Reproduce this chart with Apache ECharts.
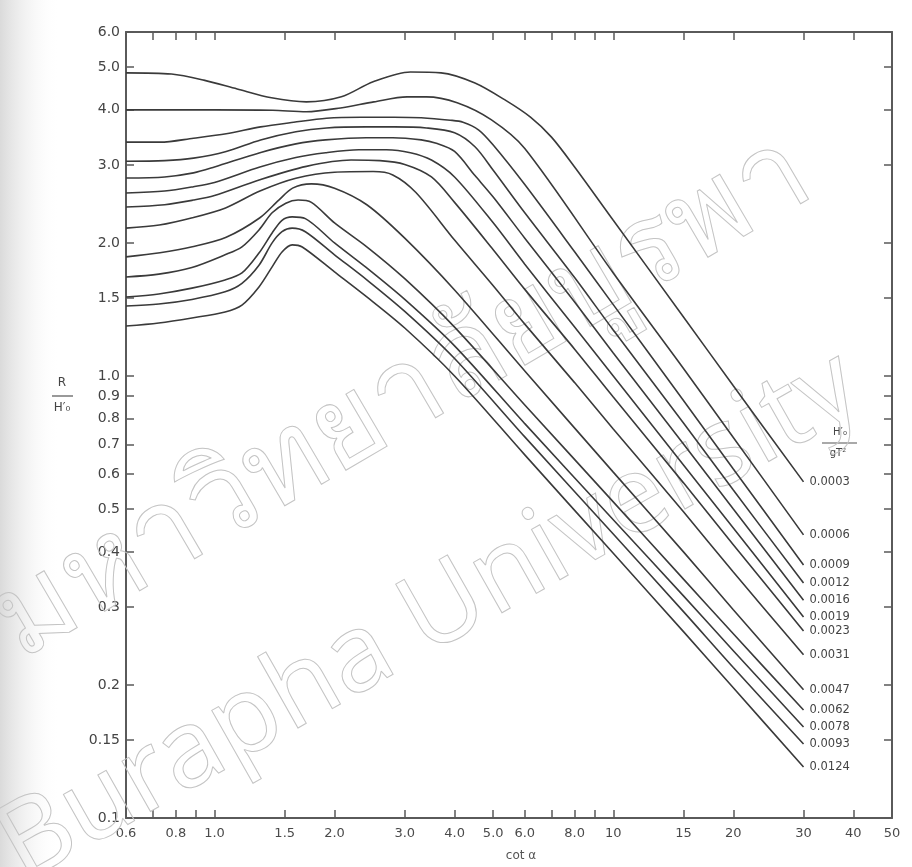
<!DOCTYPE html>
<html><head><meta charset="utf-8">
<script src="https://cdn.jsdelivr.net/npm/echarts@6/dist/echarts.min.js"></script>
<style>html,body{margin:0;padding:0;background:#fff}#c{width:912px;height:867px}</style>
</head><body><div id="c"></div>
<script>
// H0'/gT^2 curve names
const seriesNames = ['0.0003','0.0006','0.0009','0.0012','0.0016','0.0019','0.0023','0.0031','0.0047','0.0062','0.0078','0.0093','0.0124'];
// [cot alpha, R/H0']
const s0003 = [[0.6,4.85],[0.78,4.82],[0.94,4.67],[1.14,4.46],[1.39,4.26],[1.7,4.17],[2.08,4.28],[2.5,4.63],[3.1,4.87],[3.7,4.85],[4.5,4.60],[5.4,4.19],[6.2,3.85],[7.0,3.47],[8.0,2.97],[10,2.25],[15,1.36],[20,0.95],[30,0.576]];
const s0006 = [[0.6,4.0],[0.8,4.0],[1.0,4.0],[1.4,3.99],[1.7,3.96],[2.07,4.04],[2.51,4.17],[3.04,4.28],[3.4,4.28],[4.06,4.15],[4.94,3.80],[6.0,3.27],[10,1.71],[15,1.04],[20,0.726],[30,0.437]];
const s0009 = [[0.6,3.38],[0.73,3.38],[0.886,3.45],[1.07,3.53],[1.305,3.66],[1.58,3.75],[1.91,3.83],[2.33,3.85],[2.82,3.85],[3.3,3.84],[3.9,3.79],[4.2,3.75],[4.6,3.60],[5.0,3.33],[6.0,2.71],[8.0,1.91],[10,1.45],[15,0.88],[20,0.616],[30,0.3736]];
const s0012 = [[0.6,3.06],[0.75,3.07],[0.886,3.11],[1.07,3.22],[1.305,3.42],[1.6,3.57],[1.91,3.64],[2.4,3.66],[2.82,3.66],[3.4,3.64],[4.0,3.55],[4.5,3.30],[5.0,2.92],[6.0,2.34],[8.0,1.67],[10,1.27],[15,0.783],[20,0.552],[30,0.340]];
const s0016 = [[0.6,2.805],[0.75,2.82],[0.886,2.88],[1.0,2.97],[1.3,3.20],[1.6,3.35],[1.9,3.42],[2.4,3.46],[2.8,3.46],[3.3,3.42],[3.6,3.36],[4.0,3.22],[4.5,2.84],[5.0,2.54],[6.0,2.05],[8.0,1.47],[10,1.127],[15,0.702],[20,0.50],[30,0.311]];
const s0019 = [[0.6,2.594],[0.75,2.62],[0.886,2.68],[1.0,2.74],[1.3,2.97],[1.6,3.12],[1.9,3.20],[2.3,3.25],[2.7,3.25],[3.1,3.20],[3.5,3.08],[4.0,2.82],[5.0,2.22],[6.0,1.79],[8.0,1.29],[10,1.0],[15,0.629],[20,0.453],[30,0.285]];
const s0023 = [[0.6,2.412],[0.75,2.44],[0.886,2.50],[1.0,2.56],[1.3,2.78],[1.7,2.98],[2.2,3.08],[2.6,3.07],[3.0,3.01],[3.5,2.82],[4.0,2.47],[5.0,1.93],[6.0,1.57],[8.0,1.15],[10,0.896],[15,0.573],[20,0.415],[30,0.265]];
const s0031 = [[0.6,2.16],[0.727,2.195],[0.88,2.28],[1.066,2.40],[1.3,2.62],[1.6,2.80],[2.0,2.89],[2.5,2.90],[2.8,2.85],[3.2,2.60],[4.0,2.03],[5.0,1.60],[6.0,1.31],[8.0,0.966],[10,0.759],[15,0.493],[20,0.36],[30,0.234]];
const s0047 = [[0.6,1.86],[0.73,1.90],[0.88,1.96],[1.07,2.06],[1.3,2.28],[1.45,2.50],[1.57,2.66],[1.75,2.72],[2.0,2.66],[2.41,2.44],[3.0,2.05],[4.0,1.565],[6.0,1.026],[10,0.606],[15,0.40],[20,0.296],[30,0.195]];
const s0062 = [[0.6,1.675],[0.725,1.70],[0.878,1.76],[1.063,1.88],[1.172,1.96],[1.293,2.14],[1.395,2.34],[1.51,2.46],[1.62,2.50],[1.75,2.47],[2.0,2.22],[2.41,1.96],[3.0,1.66],[4.0,1.29],[6.0,0.86],[10,0.519],[15,0.347],[20,0.261],[30,0.1755]];
const s0078 = [[0.6,1.509],[0.725,1.533],[0.878,1.58],[1.063,1.649],[1.172,1.71],[1.293,1.897],[1.395,2.106],[1.477,2.25],[1.566,2.29],[1.69,2.27],[2.0,2.0],[2.41,1.755],[3.0,1.49],[4.0,1.17],[6.0,0.78],[10,0.473],[15,0.318],[20,0.239],[30,0.1607]];
const s0093 = [[0.6,1.44],[0.725,1.455],[0.878,1.49],[1.063,1.55],[1.172,1.62],[1.293,1.78],[1.395,2.0],[1.477,2.12],[1.566,2.16],[1.69,2.12],[2.0,1.88],[2.41,1.65],[3.0,1.40],[4.0,1.095],[6.0,0.728],[10,0.439],[15,0.293],[20,0.219],[30,0.147]];
const s0124 = [[0.6,1.297],[0.725,1.318],[0.878,1.353],[1.063,1.396],[1.172,1.447],[1.293,1.59],[1.395,1.765],[1.477,1.908],[1.566,1.98],[1.66,1.958],[2.0,1.72],[2.41,1.51],[3.0,1.284],[4.0,1.0],[6.0,0.663],[10,0.397],[15,0.264],[20,0.197],[30,0.1304]];
const seriesData = [s0003,s0006,s0009,s0012,s0016,s0019,s0023,s0031,s0047,s0062,s0078,s0093,s0124];

// axis ticks and labels
const xTickValues = [0.6,0.7,0.8,0.9,1,1.5,2,3,4,5,6,7,8,9,10,15,20,30,40,50];
const xLabelValues = [0.6,0.8,1,1.5,2,3,4,5,6,8,10,15,20,30,40,50];
const xLabelTexts = ['0.6','0.8','1.0','1.5','2.0','3.0','4.0','5.0','6.0','8.0','10','15','20','30','40','50'];
const yTickValues = [0.1,0.15,0.2,0.3,0.4,0.5,0.6,0.7,0.8,0.9,1,1.5,2,3,4,5,6];
const yLabelTexts = ['0.1','0.15','0.2','0.3','0.4','0.5','0.6','0.7','0.8','0.9','1.0','1.5','2.0','3.0','4.0','5.0','6.0'];

function pick(vals, texts) {
  return function (v) {
    let best = 0, bd = Infinity;
    for (let i = 0; i < vals.length; i++) {
      const d = Math.abs(Math.log(v) - Math.log(vals[i]));
      if (d < bd) { bd = d; best = i; }
    }
    return texts[best];
  };
}

const FONT = 'DejaVu Sans';
const axisColor = '#5a5a5a';
const lineColor = '#3a3a3a';

const chart = echarts.init(document.getElementById('c'), null, {renderer: 'canvas'});

function mkX(pos, labels) {
  return {
    type: 'log', logBase: 10, min: 0.6, max: 50, position: pos,
    axisLine: {show: true, onZero: false, lineStyle: {color: axisColor, width: 2}},
    axisTick: {show: true, inside: true, length: 8, customValues: xTickValues, lineStyle: {color: axisColor, width: 1.5}},
    axisLabel: labels ? {show: true, customValues: xLabelValues, formatter: pick(xLabelValues, xLabelTexts), color: '#4a4a4a', fontSize: 13, fontFamily: FONT, margin: 9} : {show: false},
    splitLine: {show: false}, minorTick: {show: false}
  };
}
function mkY(pos, labels) {
  return {
    type: 'log', logBase: 10, min: 0.1, max: 6, position: pos,
    axisLine: {show: true, onZero: false, lineStyle: {color: axisColor, width: 2}},
    axisTick: {show: true, inside: true, length: 8, customValues: yTickValues, lineStyle: {color: axisColor, width: 1.5}},
    axisLabel: labels ? {show: true, customValues: yTickValues, formatter: pick(yTickValues, yLabelTexts), color: '#444', fontSize: 14, fontFamily: FONT, margin: 6} : {show: false},
    splitLine: {show: false}, minorTick: {show: false}
  };
}

const series = seriesNames.map((name, i) => ({
  name: name, type: 'line', xAxisIndex: 0, yAxisIndex: 0,
  data: seriesData[i], smooth: 0.3, showSymbol: false, symbol: 'none',
  lineStyle: {color: lineColor, width: 1.6}, silent: true, animation: false,
  endLabel: {show: true, formatter: '{a}', color: '#444', fontSize: 11.5, fontFamily: FONT, distance: 6}
}));

chart.setOption({
  animation: false,
  backgroundColor: '#ffffff',
  grid: {left: 126, right: 20, top: 32, bottom: 49, containLabel: false},
  xAxis: [mkX('bottom', true), mkX('top', false)],
  yAxis: [mkY('left', true), mkY('right', false)],
  series: series,
  graphic: [
    {type: 'rect', silent: true, z: -10, shape: {x: 0, y: 0, width: 60, height: 867},
     style: {fill: new echarts.graphic.LinearGradient(0, 0, 1, 0, [{offset: 0, color: 'rgba(150,150,150,0.35)'}, {offset: 0.5, color: 'rgba(190,190,190,0.15)'}, {offset: 1, color: 'rgba(255,255,255,0)'}])}},
    {type: 'text', silent: true, z: 1, x: 402, y: 398, rotation: 0.53,
     style: {text: 'มหาวิทยาลัยบูรพา', fontSize: 118, fontFamily: 'Noto Sans, DejaVu Sans', fill: 'rgba(0,0,0,0)', stroke: '#c4c4c4', lineWidth: 1, align: 'center', verticalAlign: 'middle'}},
    {type: 'text', silent: true, z: 1, x: 430, y: 618, rotation: 0.515,
     style: {text: 'Burapha University', fontSize: 108, fontFamily: 'Noto Sans', fill: 'rgba(0,0,0,0)', stroke: '#c4c4c4', lineWidth: 1, align: 'center', verticalAlign: 'middle'}},
    {type: 'text', silent: true, x: 62, y: 383, style: {text: 'R', fontSize: 12, fontFamily: FONT, fill: '#444', align: 'center', verticalAlign: 'middle'}},
    {type: 'line', silent: true, shape: {x1: 52, y1: 396, x2: 73, y2: 396}, style: {stroke: '#555', lineWidth: 1.2}},
    {type: 'text', silent: true, x: 62, y: 408, style: {text: 'H′₀', fontSize: 12, fontFamily: FONT, fill: '#444', align: 'center', verticalAlign: 'middle'}},
    {type: 'text', silent: true, x: 840, y: 432, style: {text: 'H′₀', fontSize: 10, fontFamily: FONT, fill: '#444', align: 'center', verticalAlign: 'middle'}},
    {type: 'line', silent: true, shape: {x1: 822, y1: 443, x2: 857, y2: 443}, style: {stroke: '#555', lineWidth: 1.2}},
    {type: 'text', silent: true, x: 838, y: 453, style: {text: 'gT²', fontSize: 10, fontFamily: FONT, fill: '#444', align: 'center', verticalAlign: 'middle'}},
    {type: 'text', silent: true, x: 521, y: 856, style: {text: 'cot α', fontSize: 12, fontFamily: FONT, fill: '#555', align: 'center', verticalAlign: 'middle'}}
  ]
});
</script>
</body></html>
